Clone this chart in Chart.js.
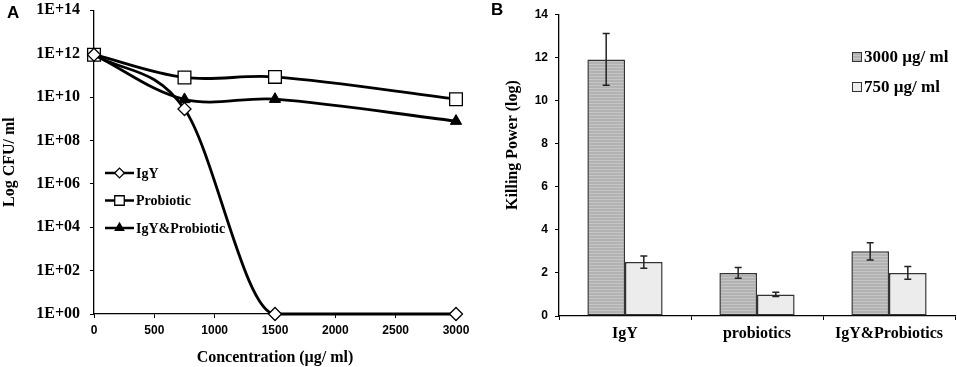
<!DOCTYPE html>
<html>
<head>
<meta charset="utf-8">
<script src="https://cdn.jsdelivr.net/npm/chart.js@4"></script>
<style>
  body { margin: 0; background: #fff; }
  .panel { position: absolute; top: 0; }
  .letter { position: absolute; font: bold 17px "Liberation Sans", Arial, sans-serif; color: #000; }
</style>
</head>
<body>
<div class="panel" style="left:0"><canvas id="chartA" width="480" height="367"></canvas></div>
<div class="panel" style="left:480px"><canvas id="chartB" width="477" height="367"></canvas></div>
<div class="letter" style="left:7px;top:3px">A</div>
<div class="letter" style="left:491px;top:0px">B</div>
<script>
// Panel A: bacterial count vs concentration
const concentrations = [0, 750, 1500, 3000];
const cfuIgY = [9e11, 2.8e9, 1, 1];
const cfuProbiotic = [9e11, 8e10, 8.5e10, 8e9];
const cfuCombined = [9e11, 7.8e9, 8e9, 7.8e8];
const logTickPowers = [0, 2, 4, 6, 8, 10, 12, 14];

// Panel B: killing power
const groups = ['IgY', 'probiotics', 'IgY&Probiotics'];
const kill3000 = [11.9, 2.0, 3.0];
const err3000 = [1.2, 0.25, 0.4];
const kill750 = [2.5, 1.0, 2.0];
const err750 = [0.28, 0.1, 0.3];

const serif = '"Liberation Serif", "Times New Roman", serif';
const sans = '"Liberation Sans", Arial, sans-serif';

Chart.defaults.color = '#000';
Chart.defaults.animation = false;

function toPoints(ys) {
    return concentrations.map((x, i) => ({ x: x, y: ys[i] }));
}

// leyenda dentro del area del grafico (linea + marcador)
const lineLegend = {
    id: 'lineLegend',
    afterDraw(chart) {
        const ctx = chart.ctx;
        chart.data.datasets.forEach((ds, i) => {
            const y = 173 + i * 27.5;
            ctx.save();
            ctx.strokeStyle = '#000';
            ctx.lineWidth = 2.5;
            ctx.beginPath();
            ctx.moveTo(105, y);
            ctx.lineTo(134, y);
            ctx.stroke();
            ctx.fillStyle = ds.pointBackgroundColor;
            ctx.strokeStyle = '#000';
            ctx.lineWidth = 1.3;
            Chart.helpers.drawPoint(ctx, { pointStyle: ds.pointStyle, radius: ds.pointRadius * 0.75, borderWidth: 1.3 }, 119.5, y);
            ctx.fillStyle = '#000';
            ctx.font = 'bold 14px ' + serif;
            ctx.textBaseline = 'middle';
            ctx.fillText(ds.label, 136, y + 1);
            ctx.restore();
        });
    }
};

new Chart(document.getElementById('chartA'), {
    type: 'line',
    data: {
        datasets: [
            {
                label: 'IgY', data: toPoints(cfuIgY), clip: false,
                borderColor: '#000', borderWidth: 2.8, cubicInterpolationMode: 'monotone',
                pointStyle: 'rectRot', pointRadius: 6.5, pointBackgroundColor: '#fff',
                pointBorderColor: '#000', pointBorderWidth: 1.3
            },
            {
                label: 'Probiotic', data: toPoints(cfuProbiotic), clip: false,
                borderColor: '#000', borderWidth: 2.8, tension: 0.35,
                pointStyle: 'rect', pointRadius: 9, pointBackgroundColor: '#fff',
                pointBorderColor: '#000', pointBorderWidth: 1.3
            },
            {
                label: 'IgY&Probiotic', data: toPoints(cfuCombined), clip: false,
                borderColor: '#000', borderWidth: 2.8, tension: 0.35,
                pointStyle: 'triangle', pointRadius: 6.5, pointBackgroundColor: '#000',
                pointBorderColor: '#000', pointBorderWidth: 1
            }
        ]
    },
    options: {
        responsive: false,
        layout: { padding: { top: 0, right: 24, left: 0, bottom: 0 } },
        plugins: { legend: { display: false }, tooltip: { enabled: false } },
        scales: {
            x: {
                type: 'linear', min: 0, max: 3000,
                afterFit: s => { s.height = 53; },
                ticks: {
                    stepSize: 500, padding: 5, maxRotation: 0,
                    font: { family: sans, size: 12, weight: 'bold' },
                    callback: v => String(v)
                },
                grid: { drawOnChartArea: false, tickLength: 4, color: '#000' },
                border: { color: '#000', width: 1.3 },
                title: { display: true, text: 'Concentration (µg/ ml)', padding: 0, font: { family: serif, size: 16, weight: 'bold' } }
            },
            y: {
                type: 'logarithmic', min: 1, max: 1e14,
                afterFit: s => { s.width = 94; s.paddingTop = 7; },
                afterBuildTicks: s => { s.ticks = logTickPowers.map(p => ({ value: Math.pow(10, p) })); },
                ticks: {
                    padding: 10, font: { family: serif, size: 16, weight: 'bold' },
                    callback: v => '1E+' + String(Math.round(Math.log10(v))).padStart(2, '0')
                },
                grid: { drawOnChartArea: false, tickLength: 4, color: '#000' },
                border: { color: '#000', width: 1.3 },
                title: { display: true, text: 'Log CFU/ ml', padding: 0, font: { family: serif, size: 16, weight: 'bold' } }
            }
        }
    },
    plugins: [lineLegend]
});

// Panel B
const ctxB = document.getElementById('chartB').getContext('2d');

// relleno rayado horizontal para las barras oscuras
function rayado() {
    const c = document.createElement('canvas');
    c.width = 4; c.height = 3;
    const g = c.getContext('2d');
    g.fillStyle = '#b2b2b2';
    g.fillRect(0, 0, 4, 3);
    g.fillStyle = '#c6c6c6';
    g.fillRect(0, 1, 4, 1);
    return ctxB.createPattern(c, 'repeat');
}

const errorBars = {
    id: 'errorBars',
    afterDatasetsDraw(chart) {
        const ctx = chart.ctx;
        const y = chart.scales.y;
        chart.data.datasets.forEach((ds, i) => {
            chart.getDatasetMeta(i).data.forEach((bar, j) => {
                const top = y.getPixelForValue(ds.data[j] + ds.errors[j]);
                const bot = y.getPixelForValue(ds.data[j] - ds.errors[j]);
                ctx.save();
                ctx.strokeStyle = '#222';
                ctx.lineWidth = 1.5;
                ctx.beginPath();
                ctx.moveTo(bar.x, top); ctx.lineTo(bar.x, bot);
                ctx.moveTo(bar.x - 3.5, top); ctx.lineTo(bar.x + 3.5, top);
                ctx.moveTo(bar.x - 3.5, bot); ctx.lineTo(bar.x + 3.5, bot);
                ctx.stroke();
                ctx.restore();
            });
        });
    }
};

const barLegendAndTitle = {
    id: 'barLegendAndTitle',
    afterDraw(chart) {
        const ctx = chart.ctx;
        ctx.save();
        chart.data.datasets.forEach((ds, i) => {
            const y = 57 + i * 30;
            ctx.fillStyle = ds.backgroundColor;
            ctx.fillRect(372, y - 5, 10, 10);
            ctx.strokeStyle = '#333';
            ctx.lineWidth = 1;
            ctx.strokeRect(372.5, y - 4.5, 9, 9);
            ctx.fillStyle = '#000';
            ctx.font = 'bold 17px ' + serif;
            ctx.textBaseline = 'middle';
            ctx.fillText(ds.label, 384, y + 1);
        });
        // titulo del eje y
        ctx.translate(33, 145);
        ctx.rotate(-Math.PI / 2);
        ctx.textAlign = 'center';
        ctx.textBaseline = 'middle';
        ctx.font = 'bold 16px ' + serif;
        ctx.fillText('Killing Power (log)', 0, 0);
        ctx.restore();
    }
};

new Chart(ctxB, {
    type: 'bar',
    data: {
        labels: groups,
        datasets: [
            {
                label: '3000 µg/ ml', data: kill3000, errors: err3000,
                backgroundColor: rayado(), borderColor: '#333', borderWidth: 1.5, borderSkipped: false,
                barPercentage: 1, categoryPercentage: 0.57
            },
            {
                label: '750 µg/ ml', data: kill750, errors: err750,
                backgroundColor: '#ececec', borderColor: '#333', borderWidth: 1.5, borderSkipped: false,
                barPercentage: 1, categoryPercentage: 0.57
            }
        ]
    },
    options: {
        responsive: false,
        layout: { padding: { top: 13, right: 2, left: 0, bottom: 0 } },
        plugins: { legend: { display: false }, tooltip: { enabled: false } },
        scales: {
            x: {
                afterFit: s => { s.height = 51; },
                ticks: { padding: 4, font: { family: serif, size: 16, weight: 'bold' }, maxRotation: 0 },
                grid: { drawOnChartArea: false, offset: true, tickLength: 4, color: '#000' },
                border: { color: '#000', width: 1.3 }
            },
            y: {
                min: 0, max: 14,
                afterFit: s => { s.width = 79; },
                ticks: { stepSize: 2, padding: 7, font: { family: sans, size: 12, weight: 'bold' } },
                grid: { drawOnChartArea: false, tickLength: 4, color: '#000' },
                border: { color: '#000', width: 1.3 }
            }
        }
    },
    plugins: [errorBars, barLegendAndTitle]
});
</script>
</body>
</html>
